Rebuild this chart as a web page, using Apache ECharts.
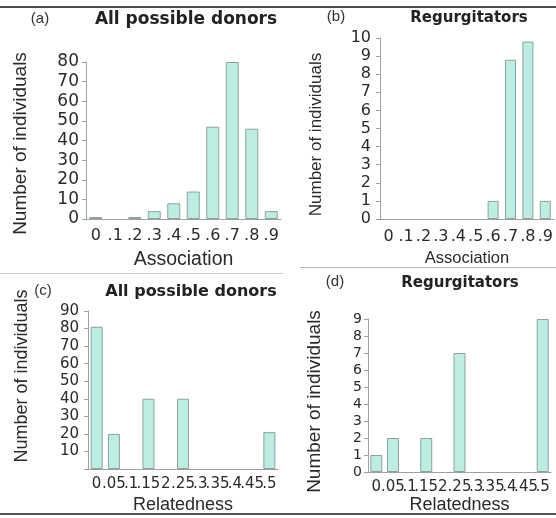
<!DOCTYPE html>
<html>
<head>
<meta charset="utf-8">
<script src="https://cdn.jsdelivr.net/npm/echarts@6/dist/echarts.min.js"></script>
<style>
html,body{margin:0;padding:0;background:#fff;}
#chart{width:556px;height:518px;}
</style>
</head>
<body>
<div id="chart"></div>
<script>
// ---- data ----
const assocCategories = ['0', '.1', '.2', '.3', '.4', '.5', '.6', '.7', '.8', '.9'];
const relCategories = ['0', '.05', '.1', '.15', '2', '.25', '.3', '.35', '.4', '.45', '.5'];
const allDonorsAssoc = [1, 0, 1, 4, 8, 14, 47, 80, 46, 4];
const regurgAssoc = [0, 0, 0, 0, 0, 0, 1, 8.8, 9.8, 1];
const allDonorsRel = [81, 20, 0, 40, 0, 40, 0, 0, 0, 0, 21];
const regurgRel = [1, 2, 0, 2, 0, 7, 0, 0, 0, 0, 9];
const panelTitles = ['All possible donors', 'Regurgitators', 'All possible donors', 'Regurgitators'];
const panelLetters = ['(a)', '(b)', '(c)', '(d)'];
const yAxisTitle = 'Number of individuals';
const xAxisTitles = ['Association', 'Association', 'Relatedness', 'Relatedness'];

// ---- styling ----
const FONT = 'DejaVu Sans';
const NAMEFONT = 'Liberation Sans';
const barFill = '#bcede2';
const barEdge = '#8fa19d';
const axisGrey = '#a0a0a0';
const textCol = '#2a2a2a';

const chart = echarts.init(document.getElementById('chart'));

const grids = [
  {left: 86, top: 62, width: 195, height: 157},
  {left: 380, top: 38, width: 174, height: 181},
  {left: 88, top: 311, width: 190, height: 158},
  {left: 368, top: 319, width: 183, height: 153}
];

function xAx(i, cats, fs, margin, nameFs, nameGap) {
  return {
    type: 'category', gridIndex: i, data: cats,
    axisLine: {lineStyle: {color: axisGrey, width: 1}},
    axisTick: {alignWithLabel: true, length: 5, lineStyle: {color: axisGrey}},
    axisLabel: {interval: 0, hideOverlap: false, margin: margin, color: textCol, fontFamily: FONT, fontSize: fs},
    name: xAxisTitles[i], nameLocation: 'middle', nameGap: nameGap,
    nameTextStyle: {fontFamily: NAMEFONT, fontSize: nameFs, color: textCol}
  };
}
function yAx(i, max, interval, fs, margin, nameFs, nameGap, namePad, hideZero) {
  return {
    type: 'value', gridIndex: i, min: 0, max: max, interval: interval,
    splitLine: {show: false},
    axisLine: {show: true, lineStyle: {color: axisGrey, width: 1}},
    axisTick: {show: true, length: 4, lineStyle: {color: axisGrey}},
    axisLabel: {margin: margin, color: textCol, fontFamily: FONT, fontSize: fs,
      formatter: v => (hideZero && v === 0) ? '' : String(v)},
    name: yAxisTitle, nameLocation: 'middle', nameGap: nameGap, nameRotate: 90,
    nameTextStyle: {fontFamily: NAMEFONT, fontSize: nameFs, color: textCol, padding: namePad}
  };
}
function bars(i, data, w) {
  return {
    type: 'bar', xAxisIndex: i, yAxisIndex: i, barWidth: w,
    data: data.map(v => v === 0 ? {value: 0, itemStyle: {borderWidth: 0}} : v),
    itemStyle: {color: barFill, borderColor: barEdge, borderWidth: 1},
    silent: true, animation: false
  };
}

const titlePos = [
  {x: 186, y: 20, fs: 17, lx: 40, ly: 19},
  {x: 469, y: 18, fs: 15, lx: 336, ly: 17},
  {x: 191, y: 292, fs: 16, lx: 43, ly: 291},
  {x: 460, y: 283, fs: 15, lx: 335, ly: 282}
];
const texts = [];
titlePos.forEach((p, i) => {
  texts.push({type: 'text', x: p.x, y: p.y, silent: true,
    style: {text: panelTitles[i], fontFamily: FONT, fontWeight: 'bold', fontSize: p.fs,
      fill: '#222', align: 'center', verticalAlign: 'middle'}});
  texts.push({type: 'text', x: p.lx, y: p.ly, silent: true,
    style: {text: panelLetters[i], fontFamily: NAMEFONT, fontSize: 15,
      fill: '#333', align: 'center', verticalAlign: 'middle'}});
});

chart.setOption({
  animation: false,
  backgroundColor: '#fff',
  grid: grids,
  xAxis: [
    xAx(0, assocCategories, 16, 9, 19.5, 31),
    xAx(1, assocCategories, 16, 10, 16.5, 31),
    xAx(2, relCategories, 15, 8, 18, 27),
    xAx(3, relCategories, 15, 8, 18, 24)
  ],
  yAxis: [
    yAx(0, 80, 10, 17, 7, 19, 56, [0, 6, 0, 0], false),
    yAx(1, 10, 1, 16, 9, 17, 55, [0, 12, 0, 0], false),
    yAx(2, 90, 10, 15, 9, 18, 57, [0, 0, 0, 28], true),
    yAx(3, 9, 1, 14, 6, 19, 44, [0, 12, 0, 0], false)
  ],
  series: [
    bars(0, allDonorsAssoc, 13),
    bars(1, regurgAssoc, 11),
    bars(2, allDonorsRel, 12),
    bars(3, regurgRel, 12)
  ],
  graphic: texts.concat([
    {type: 'line', silent: true, shape: {x1: 0, y1: 7, x2: 556, y2: 7}, style: {stroke: '#111', lineWidth: 1.5}},
    {type: 'line', silent: true, shape: {x1: 0, y1: 273.5, x2: 283, y2: 273.5}, style: {stroke: '#c8c8c8', lineWidth: 1}},
    {type: 'line', silent: true, shape: {x1: 300, y1: 267.5, x2: 556, y2: 267.5}, style: {stroke: '#b8b8b8', lineWidth: 1.2}},
    {type: 'line', silent: true, shape: {x1: 0, y1: 514, x2: 556, y2: 514}, style: {stroke: '#555', lineWidth: 2}}
  ])
});
</script>
</body>
</html>
